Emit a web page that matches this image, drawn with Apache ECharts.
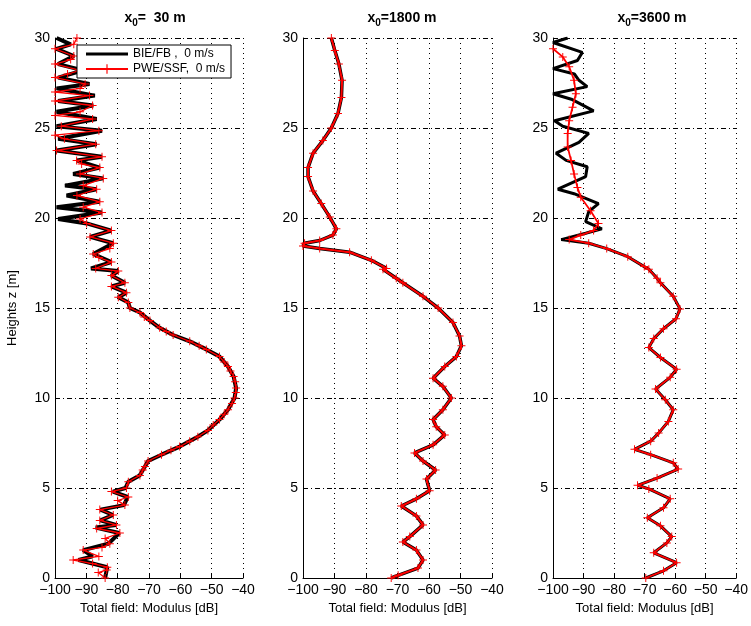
<!DOCTYPE html>
<html><head><meta charset="utf-8">
<script src="https://cdn.jsdelivr.net/npm/echarts@6/dist/echarts.min.js"></script>
<style>html,body{margin:0;padding:0;background:#fff}#c{width:751px;height:626px}</style>
</head><body><div id="c"></div>
<script>
// Panel titles
const titles = ['30 m', '1800 m', '3600 m'];
const xTicks = [-100, -90, -80, -70, -60, -50, -40];
const yTicks = [0, 5, 10, 15, 20, 25, 30];

// Panel 1 (x0 = 30 m): BIE/FB (black)
const p1BlackZ = [0,0.45,0.6,1.0,1.2,1.55,1.9,2.5,2.8,2.95,3.2,3.5,3.8,4.05,4.5,4.8,5.0,5.35,5.7,6.2,6.5,6.85,7.3,7.85,8.2,8.8,9.35,10.0,10.55,11.2,11.75,12.3,12.7,13.15,13.5,13.9,14.3,14.75,15.0,15.3,15.6,15.85,16.2,16.4,16.8,17.05,17.2,17.55,18.0,18.6,18.95,19.3,19.7,19.95,20.3,20.6,20.9,21.25,21.6,21.8,22.2,22.45,22.8,23.2,23.4,23.75,24.1,24.4,24.85,25.1,25.5,25.9,26.25,26.5,26.8,27.2,27.45,27.8,28.2,28.55,29.0,29.4,29.65,30];
const p1BlackDB = [-84,-83.5,-83.3,-92.5,-88,-91,-83,-79.5,-87,-80.5,-85.5,-81.5,-85.5,-78,-76.8,-81.5,-77.5,-76.6,-73,-71.3,-70.3,-66,-60.2,-54.4,-51.2,-47.5,-44.8,-42.7,-42.2,-43,-44.8,-47.5,-51.7,-57,-62.3,-66.6,-69.7,-72.9,-76.1,-76.6,-79.8,-77.2,-82,-77.7,-82,-79.8,-88.5,-82,-87.8,-81.4,-88.8,-82,-89.9,-99,-85,-99.5,-85.7,-96.3,-86.7,-96.8,-84.6,-94.2,-85.7,-93.1,-85,-99.5,-86.7,-99,-85,-99.5,-86.7,-99.5,-87.8,-99,-87.3,-99.5,-89,-99,-91,-99,-94,-99.5,-95,-99.5];

// Panel 1 (x0 = 30 m): PWE/SSF (red)
const p1RedZ = [0,0.3,0.45,0.6,0.8,1.0,1.2,1.55,1.7,1.9,2.2,2.5,2.75,2.95,3.2,3.5,3.8,4.05,4.3,4.5,4.8,5.0,5.35,5.7,6.0,6.2,6.5,6.85,7.1,7.3,7.6,7.85,8.2,8.5,8.8,9.1,9.35,9.7,10.0,10.3,10.55,10.9,11.2,11.5,11.75,12.0,12.3,12.7,12.9,13.15,13.5,13.7,13.9,14.3,14.5,14.75,15.0,15.3,15.6,15.85,16.2,16.4,16.8,17.05,17.2,17.55,17.8,18.0,18.3,18.6,18.95,19.3,19.7,19.95,20.3,20.6,20.9,21.25,21.6,21.8,22.2,22.45,22.8,23.0,23.2,23.4,23.75,24.1,24.4,24.6,24.85,25.1,25.5,25.7,25.9,26.25,26.5,26.8,27.0,27.2,27.45,27.8,28.0,28.2,28.55,28.8,29.0,29.4,29.65,30];
const p1RedDB = [-84,-86.2,-83.5,-83.3,-88,-94.2,-86,-91,-85,-82.5,-84,-79.3,-86.7,-80.4,-85.7,-81.4,-85.7,-77.7,-80,-76.6,-82,-77.2,-76.6,-72.9,-72,-71.3,-70.3,-66,-63,-60.2,-57,-54.4,-51.2,-49.5,-47.5,-46,-44.8,-43.5,-42.7,-42.3,-42.2,-42.5,-43,-44,-44.8,-46,-47.5,-51.7,-54,-57,-62.3,-64.5,-66.6,-69.7,-71.5,-72.9,-76.1,-76.6,-79.8,-77.2,-82,-77.7,-82,-79.8,-87,-82,-86,-87.8,-82.5,-81.4,-88.8,-82,-89.9,-92,-85,-91,-85.7,-93,-86.7,-91,-84.6,-92,-85.7,-91.5,-93.1,-85,-99.5,-87,-97,-100,-86,-98,-88,-100,-92,-88,-100,-89,-100,-92,-90.4,-100,-96,-92,-100,-95,-94,-100,-94,-93];

// Panel 2 (x0 = 1800 m)
const p2Z = [0,0.15,0.55,1.0,1.55,2.0,2.3,2.95,3.45,4.0,4.4,4.85,5.5,6.0,6.5,6.95,7.4,7.95,8.4,8.8,9.35,10.0,10.65,11.1,11.75,12.3,12.9,13.45,14.2,15.0,15.65,16.4,16.65,17.15,17.2,17.65,18.1,18.3,18.45,18.6,18.75,19.05,19.4,20.05,20.8,21.5,22.3,22.8,23.6,24.3,25.0,25.8,26.7,27.65,28.55,29.3,30];
const p2BlackDB = [-72,-69.8,-63.5,-61.9,-64,-68.3,-66.1,-61.9,-64,-68.8,-64,-59.8,-60.8,-57.9,-61.9,-64.6,-58.7,-55,-57.7,-58.7,-55.6,-52.9,-55.6,-58.7,-55,-51.3,-49.7,-50.3,-52.4,-57.1,-61.9,-68.3,-70.4,-74.6,-73.5,-78.3,-85.2,-94.7,-100,-99.5,-94.7,-90.5,-89.4,-91.5,-94.2,-96.8,-98.4,-98.4,-96.8,-93.7,-91,-88.9,-87.8,-87.6,-88.6,-89.9,-91];
const p2RedDB = [-72,-69.8,-63.5,-61.9,-64,-68.3,-66.1,-61.9,-64,-68.8,-64,-59.8,-60.8,-57.9,-61.9,-64.6,-58.7,-55,-57.7,-58.7,-55.6,-52.9,-55.6,-58.7,-55,-51.3,-49.7,-50.3,-52.4,-57.1,-61.9,-68.3,-70.4,-74.6,-73.5,-78.3,-85.2,-94.7,-100,-99.5,-94.7,-90.5,-89.4,-91.5,-94.2,-96.8,-98.4,-98.4,-96.8,-93.7,-91,-88.9,-87.8,-87.6,-88.6,-89.9,-91];

// Panel 3 (x0 = 3600 m)
const p3LowZ = [0,0.4,0.85,1.4,1.95,2.3,2.9,3.35,3.9,4.4,4.95,5.15,5.55,6.05,6.4,6.85,7.15,7.6,8.05,8.7,9.35,9.9,10.5,11.15,11.6,12.25,12.8,13.3,13.85,14.4,14.95,15.65,16.4,16.65,17.15,17.3,17.85,18.3,18.6];
const p3LowDB = [-69.6,-63.8,-59.5,-67,-62.7,-61.1,-64.8,-69.1,-63.8,-61.6,-68.6,-72.3,-65.9,-59,-60.6,-68,-73.3,-68,-65.4,-62.2,-60.6,-63.2,-66.4,-61.6,-59.5,-64.8,-68.6,-67,-63.8,-59.7,-58.4,-60.6,-64.8,-65.9,-68.6,-70.1,-75.5,-82.4,-88.3];
const p3BlackUpZ = [18.8,19.15,19.4,19.8,20.35,20.8,21.35,21.6,22.3,22.85,23.2,23.6,24.2,24.7,25.1,25.4,25.95,26.6,26.9,27.3,27.65,28.0,28.3,28.75,29.2,29.75,30];
const p3BlackUpDB = [-97.3,-89.3,-84,-89.3,-88.3,-85.1,-93.1,-98.4,-89.3,-88.8,-95.7,-99,-91.5,-88.3,-96.8,-99.5,-86.7,-94,-100,-88.8,-91.5,-93,-100,-92,-90.4,-100,-95.2];
const p3RedUpZ = [18.8,19.05,19.3,19.7,20.4,21.15,21.7,22.45,23.2,23.95,24.7,25.4,26.15,26.9,27.65,28.4,28.95,29.4];
const p3RedUpDB = [-94.7,-90.9,-86.7,-85.1,-87.7,-90.9,-92,-93.1,-94.1,-95.2,-95.2,-94.7,-93.6,-92.5,-93.1,-94.7,-96.8,-100];

function pairs(zs, dbs) { return zs.map((z, i) => [dbs[i], z]); }

const FONT = 'Liberation Sans, Arial, sans-serif';
const grids = [
  {left: 55, top: 38, width: 188, height: 540},
  {left: 303, top: 38, width: 189, height: 540},
  {left: 553, top: 38, width: 188, height: 540}
];
const minus = v => String(v).replace('-', '\u2212');

const xAxes = grids.map((g, i) => ({
  type: 'value', gridIndex: i, min: -100, max: -40, interval: 10,
  name: 'Total field: Modulus [dB]', nameLocation: 'middle', nameGap: 24,
  nameTextStyle: {fontFamily: FONT, fontSize: 13, color: '#000'},
  axisLine: {lineStyle: {color: '#000', width: 1}},
  axisTick: {inside: true, length: 4, lineStyle: {color: '#000'}},
  axisLabel: {fontFamily: FONT, fontSize: 14, color: '#000', margin: 5, formatter: minus},
  splitLine: {show: true, lineStyle: {color: '#000', width: 1, type: [1, 4]}}
}));
const yAxes = grids.map((g, i) => ({
  type: 'value', gridIndex: i, min: 0, max: 30, interval: 5,
  name: i === 0 ? 'Heights z [m]' : '', nameLocation: 'middle', nameGap: 36,
  nameTextStyle: {fontFamily: FONT, fontSize: 13, color: '#000'},
  axisLine: {show: true, lineStyle: {color: '#000', width: 1}},
  axisTick: {show: true, inside: true, length: 4, lineStyle: {color: '#000'}},
  axisLabel: {fontFamily: FONT, fontSize: 14, color: '#000', margin: 5},
  splitLine: {show: true, lineStyle: {color: '#000', width: 1, type: [5, 3, 1, 3]}}
}));

const PLUS = 'path://M-1,-0.12H1V0.12H-1Z M-0.12,-1H0.12V1H-0.12Z';
function black(name, data, idx, w) {
  return {name: name, type: 'line', xAxisIndex: idx, yAxisIndex: idx, data: data,
    showSymbol: false, symbol: 'none', lineStyle: {color: '#000', width: w}, itemStyle: {color: '#000'},
    animation: false, z: 2};
}
function red(name, data, idx, w) {
  return {name: name, type: 'line', xAxisIndex: idx, yAxisIndex: idx, data: data,
    showSymbol: true, symbol: PLUS, symbolSize: 8, lineStyle: {color: '#ff0000', width: w},
    itemStyle: {color: '#ff0000'}, animation: false, z: 3};
}
const B = 'BIE/FB ,  0 m/s', R = 'PWE/SSF,  0 m/s';
const series = [
  black(B, pairs(p1BlackZ, p1BlackDB), 0, 4),
  red(R, pairs(p1RedZ, p1RedDB), 0, 1.3),
  black(B, pairs(p2Z, p2BlackDB), 1, 3.5),
  red(R, pairs(p2Z, p2RedDB), 1, 2),
  black(B, pairs(p3LowZ, p3LowDB).concat(pairs(p3BlackUpZ, p3BlackUpDB)), 2, 3),
  red(R, pairs(p3LowZ, p3LowDB).concat(pairs(p3RedUpZ, p3RedUpDB)), 2, 1.8)
];

const titleCenters = [150, 397, 647];
const title = titles.map((t, i) => ({
  text: '{a|x}{s|0}{a|=' + (i === 0 ? '  ' : '') + t + '}',
  left: titleCenters[i], top: 3, textAlign: 'center',
  textStyle: {rich: {
    a: {fontFamily: FONT, fontSize: 14, fontWeight: 'bold', color: '#000'},
    s: {fontFamily: FONT, fontSize: 10, fontWeight: 'bold', color: '#000', padding: [10, 0, 0, 0]}
  }}
}));

const BLACK_ICON = 'path://M0,0L0.01,0L0.01,0.01Z M0,4.5H42V7.5H0Z M0,12L0.01,12L0.01,11.99Z';

const chart = echarts.init(document.getElementById('c'), null, {renderer: 'canvas'});
chart.setOption({
  backgroundColor: '#fff',
  animation: false,
  title: title,
  grid: grids,
  xAxis: xAxes,
  yAxis: yAxes,
  legend: {
    data: [{name: B, icon: BLACK_ICON, itemStyle: {color: '#000'}}, R],
    left: 77, top: 45, orient: 'vertical',
    backgroundColor: '#fff', borderColor: '#000', borderWidth: 1,
    padding: [3, 6, 3, 8], itemGap: 3, itemWidth: 42, itemHeight: 12,
    textStyle: {fontFamily: FONT, fontSize: 12, color: '#000'}
  },
  series: series
});
</script></body></html>
